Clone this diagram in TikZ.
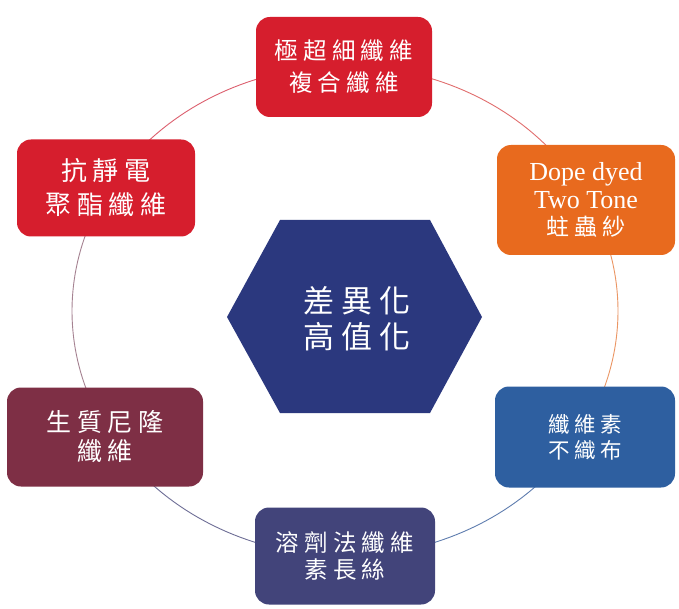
\documentclass[tikz,border=0pt]{standalone}
\usepackage{fontspec}
\setmainfont{Liberation Serif}
\newfontfamily\cjk[LetterSpace=22]{Noto Sans CJK TC}
\definecolor{cred}{RGB}{214,30,45}
\definecolor{corange}{RGB}{232,106,30}
\definecolor{cnavy}{RGB}{43,56,126}
\definecolor{cmaroon}{RGB}{126,47,69}
\definecolor{cblue}{RGB}{46,95,160}
\definecolor{cslate}{RGB}{66,68,122}
\tikzset{
  box/.style={rounded corners=14pt, text=white, align=center, inner sep=0pt},
  ring/.style={line width=0.9pt},
}
\begin{document}
\begin{tikzpicture}[x=1pt,y=-1pt]
\useasboundingbox (0,0) rectangle (679,609);
\fill[white] (0,0) rectangle (679,609);
% ring arcs
\draw[ring, color={rgb,255:red,225;green,110;blue,110}] plot[domain=27:90,samples=40] ({345+273*cos(\x)},{311-245*sin(\x)});
\draw[ring, color={rgb,255:red,235;green,150;blue,100}] plot[domain=-27:27,samples=40] ({345+273*cos(\x)},{311-245*sin(\x)});
\draw[ring, color={rgb,255:red,95;green,125;blue,175}] plot[domain=-90:-27,samples=40] ({345+273*cos(\x)},{311-245*sin(\x)});
\draw[ring, color={rgb,255:red,110;green,110;blue,150}] plot[domain=-153:-90,samples=40] ({345+273*cos(\x)},{311-245*sin(\x)});
\draw[ring, color={rgb,255:red,165;green,130;blue,145}] plot[domain=153:207,samples=40] ({345+273*cos(\x)},{311-245*sin(\x)});
\draw[ring, color={rgb,255:red,220;green,95;blue,110}] plot[domain=90:153,samples=40] ({345+273*cos(\x)},{311-245*sin(\x)});
% hexagon
\fill[cnavy] (227,317) -- (280,220) -- (430,220) -- (482,317) -- (430,413) -- (280,413) -- cycle;
\node[text=white, align=center, font=\fontsize{31}{36}\selectfont\cjk] (hex) at (357,319) {差異化\\高值化};
% boxes
\node[box, fill=cred, minimum width=176pt, minimum height=100pt, font=\fontsize{23.5}{32}\selectfont\cjk] (top) at (344,67) {極超細纖維\\複合纖維};
\node[box, fill=corange, minimum width=178pt, minimum height=110pt, font=\fontsize{26}{27.5}\selectfont] (tr) at (586,200) {Dope dyed\\Two Tone\\{\fontsize{23}{27.5}\selectfont\cjk 蛀蟲紗}};
\node[box, fill=cred, minimum width=178pt, minimum height=97pt, font=\fontsize{26}{34}\selectfont\cjk] (tl) at (106,188) {抗靜電\\聚酯纖維};
\node[box, fill=cmaroon, minimum width=196pt, minimum height=99pt, font=\fontsize{25}{29}\selectfont\cjk] (bl) at (105,437) {生質尼隆\\纖維};
\node[box, fill=cblue, minimum width=180pt, minimum height=101pt, font=\fontsize{21.5}{26}\selectfont\cjk] (br) at (585,437) {纖維素\\不織布};
\node[box, fill=cslate, minimum width=180pt, minimum height=97pt, font=\fontsize{23.5}{27}\selectfont\cjk] (bot) at (345,556) {溶劑法纖維\\素長絲};
\end{tikzpicture}
\end{document}
